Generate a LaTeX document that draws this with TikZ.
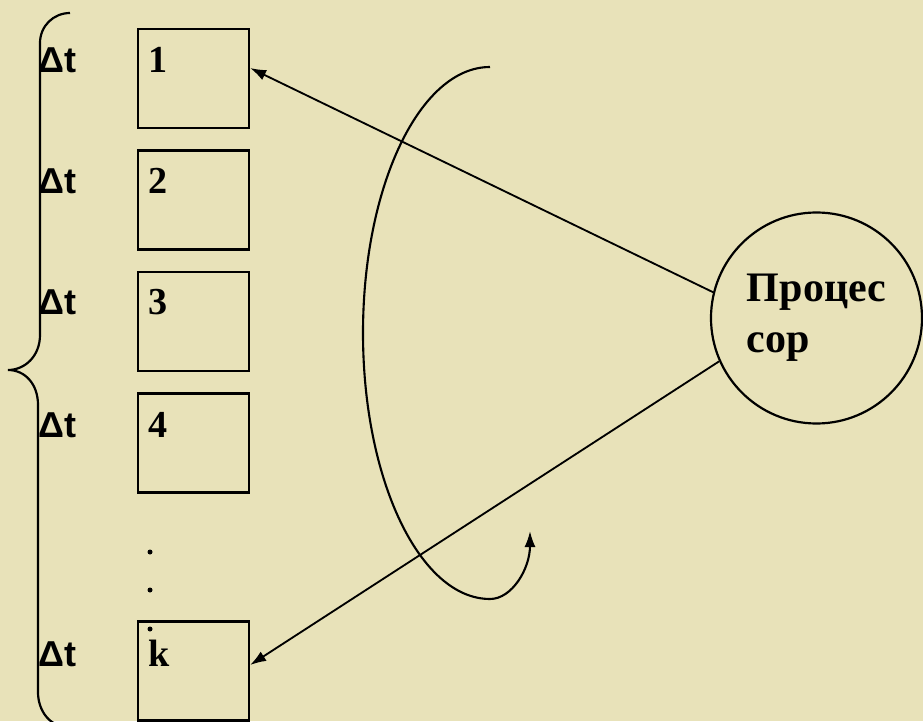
\documentclass[tikz,border=0pt]{standalone}
\usepackage{fontspec}
\setmainfont{Liberation Serif}
\newfontfamily\dtfont{Liberation Sans}
\usetikzlibrary{arrows.meta}
\definecolor{paper}{RGB}{232,226,185}

\begin{document}
\begin{tikzpicture}[
		slot/.style={draw, line width=1.3pt, minimum width=2.22cm, minimum height=1.98cm},
		num/.style={anchor=base west, inner sep=0pt, font=\fontsize{21.7}{26}\selectfont\bfseries},
		tick/.style={anchor=base west, inner sep=0pt, font=\fontsize{20.5}{24}\selectfont\dtfont\bfseries},
		ptr/.style={line width=1.05pt, -{Latex[length=0.32cm, width=0.22cm]}}
	]
			\fill[paper] (0, 0) rectangle (18.46, 14.42);
			\clip (0, 0) rectangle (18.46, 14.42);

			% time slots
			\draw (3.87, 12.85) 	node[slot] 	(s1) 	{};
			\draw (3.87, 10.42) 	node[slot] 	(s2) 	{};
			\draw (3.87, 7.99) 	node[slot] 	(s3) 	{};
			\draw (3.87, 5.56) 	node[slot] 	(s4) 	{};
			\draw (3.87, 1.00) 	node[slot] 	(sk) 	{};

			\draw (2.96, 12.96) 	node[num] 	(n1) 	{1};
			\draw (2.96, 10.54) 	node[num] 	(n2) 	{2};
			\draw (2.96, 8.12) 	node[num] 	(n3) 	{3};
			\draw (2.96, 5.66) 	node[num] 	(n4) 	{4};
			\draw (2.96, 1.10) 	node[num] 	(nk) 	{k};

			\draw (0.76, 12.96) 	node[tick] 	(t1) 	{Δt};
			\draw (0.76, 10.54) 	node[tick] 	(t2) 	{Δt};
			\draw (0.76, 8.12) 	node[tick] 	(t3) 	{Δt};
			\draw (0.76, 5.66) 	node[tick] 	(t4) 	{Δt};
			\draw (0.76, 1.10) 	node[tick] 	(tk) 	{Δt};

			% dots between slot 4 and slot k
			\fill (3.0, 3.38) circle (0.05);
			\fill (3.0, 2.62) circle (0.05);
			\fill (3.0, 1.84) circle (0.05);

			% brace over all slots
			\draw[line width=1.25pt] (1.4, 14.16) .. controls (1.07, 14.16) and (0.8, 13.9) .. (0.8, 13.56)
				-- (0.8, 7.72) .. controls (0.8, 7.3) and (0.5, 7.02) .. (0.16, 7.02)
				.. controls (0.5, 7.02) and (0.76, 6.74) .. (0.76, 6.32)
				-- (0.76, 0.58) .. controls (0.76, 0.2) and (1.0, -0.12) .. (1.36, -0.12);

			% processor
			\draw (16.33, 8.06) 	node[draw, circle, line width=1.25pt, minimum size=4.22cm, align=left,
				font=\fontsize{23.9}{29}\selectfont\bfseries] 	(cpu) 	{Процес\\сор};

			\draw[ptr] (cpu.166) -- ([yshift=0.21cm]s1.east);
			\draw[ptr] (cpu.204) -- ([yshift=0.12cm]sk.east);

			% round-robin turn
			\coordinate (spin) at (9.8, 13.08);
			\draw[ptr, line width=1.2pt] (spin) arc[start angle=90, end angle=270, x radius=2.54, y radius=5.32]
				arc[start angle=-90, end angle=0, x radius=0.8, y radius=1.36];
		\end{tikzpicture}
\end{document}
